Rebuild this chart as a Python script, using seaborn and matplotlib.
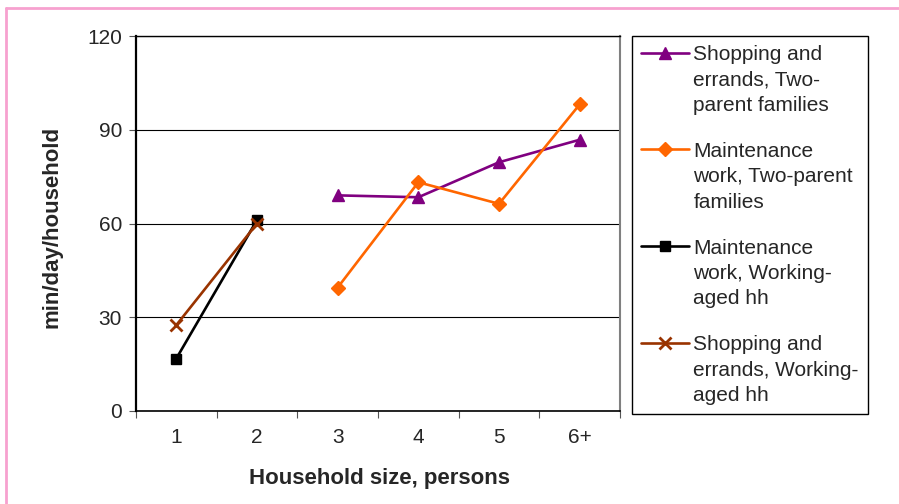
import matplotlib
matplotlib.use("Agg")
import matplotlib.pyplot as plt
from matplotlib.lines import Line2D
import seaborn as sns
import numpy as np
import pandas as pd

# Household size categories and the four series (min/day/household)
sizes = ['1', '2', '3', '4', '5', '6+']
shop_two_parent = [np.nan, np.nan, 69.0, 68.4, 79.6, 86.8]
maint_two_parent = [np.nan, np.nan, 39.5, 73.2, 66.3, 98.1]
maint_working = [16.8, 61.1, np.nan, np.nan, np.nan, np.nan]
shop_working = [27.5, 60.0, np.nan, np.nan, np.nan, np.nan]

labels = ['Shopping and\nerrands, Two-\nparent families',
          'Maintenance\nwork, Two-parent\nfamilies',
          'Maintenance\nwork, Working-\naged hh',
          'Shopping and\nerrands, Working-\naged hh']
series = [shop_two_parent, maint_two_parent, maint_working, shop_working]
colors = ['#800080', '#FF6600', '#000000', '#993300']
markers = ['^', 'D', 's', 'x']
msizes = [9, 7, 7.5, 9]
mews = [1, 1, 1, 2]

sns.set_theme(style='white')
plt.rcParams['font.family'] = ['Liberation Sans', 'DejaVu Sans']

fig = plt.figure(figsize=(8.99, 5.04), dpi=100)
ax = fig.add_axes([136 / 899, 1 - 411 / 504, 484 / 899, 375 / 504])

pos = np.arange(len(sizes))
for vals, lab, c, m, ms, mw in zip(series, labels, colors, markers, msizes, mews):
    df = pd.DataFrame({'pos': pos, 'value': vals}).dropna()
    sns.lineplot(data=df, x='pos', y='value', color=c, marker=m, ms=ms,
                 mec=c, mew=mw, linewidth=1.9, ax=ax, label=lab, sort=False)

ax.set_xlim(-0.5, 5.5)
ax.set_ylim(0, 120)
ax.set_yticks([0, 30, 60, 90, 120])
ax.set_xticks(pos)
ax.set_xticklabels(sizes)
ax.set_xticks(np.arange(-0.5, 6, 1), minor=True)
ax.tick_params(axis='x', which='major', length=0, pad=12, labelsize=15)
ax.tick_params(axis='x', which='minor', length=5, width=0.8, color='#555555',
               direction='out', bottom=True)
ax.tick_params(axis='y', length=5, width=0.8, color='#555555', direction='out',
               left=True, pad=5, labelsize=15)
ax.yaxis.grid(True, color='black', linewidth=0.8)
ax.set_axisbelow(True)

for side in ['left', 'bottom', 'top']:
    ax.spines[side].set_color('black')
ax.spines['left'].set_linewidth(1.6)
ax.spines['bottom'].set_linewidth(1.2)
ax.spines['top'].set_linewidth(1.0)
ax.spines['right'].set_color('#808080')
ax.spines['right'].set_linewidth(1.5)

ax.set_xlabel('Household size, persons', fontsize=16, fontweight='bold')
ax.set_ylabel('min/day/household', fontsize=16, fontweight='bold')
ax.xaxis.label.set_va('center')
ax.yaxis.label.set_va('center')
ax.xaxis.set_label_coords(0.504, -0.179)
ax.yaxis.set_label_coords(-0.174, 0.49)

leg = ax.legend(loc='upper left', bbox_to_anchor=(632 / 899, 1 - 36 / 504),
                bbox_transform=fig.transFigure, borderaxespad=0, fontsize=15,
                frameon=True, fancybox=False, framealpha=1, edgecolor='black',
                handlelength=2.3, handletextpad=0.2, labelspacing=1.3,
                borderpad=0.45)
leg.get_frame().set_linewidth(1.0)
for t in leg.get_texts():
    t.set_linespacing(1.42)
# keep each marker beside the first line of its label
for col in leg._legend_handle_box.get_children():
    for entry in col.get_children():
        entry.align = 'top'

# pink outer frame
pink = '#F7A1CF'
fig.add_artist(Line2D([6 / 899, 6 / 899], [0, 1 - 8 / 504], transform=fig.transFigure,
                      color=pink, linewidth=2))
fig.add_artist(Line2D([6 / 899, 1], [1 - 8 / 504, 1 - 8 / 504], transform=fig.transFigure,
                      color=pink, linewidth=2))

fig.savefig('out.png', dpi=100)
